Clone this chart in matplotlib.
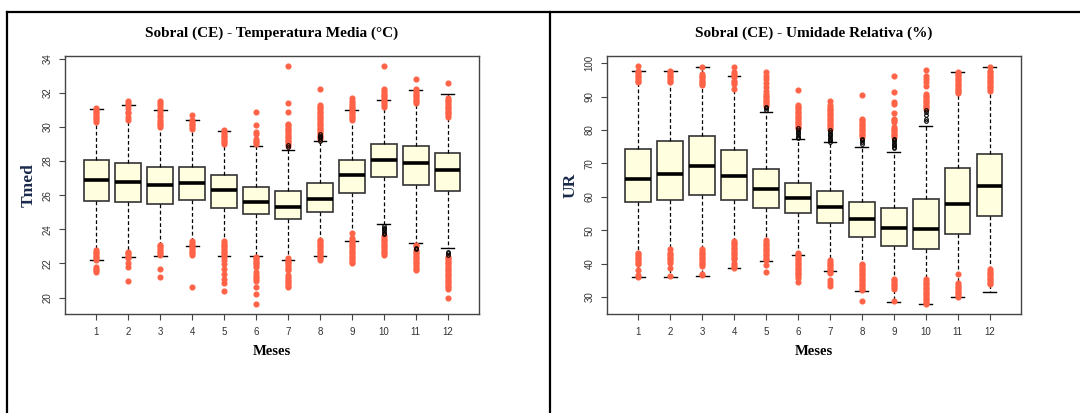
import numpy as np
import matplotlib
matplotlib.use("Agg")
import matplotlib.pyplot as plt
from matplotlib.lines import Line2D

# meses (x axis)
months = [1, 2, 3, 4, 5, 6, 7, 8, 9, 10, 11, 12]

# temperatura media - box stats
tmed_whislo = [22.22, 22.38, 22.46, 23.00, 22.46, 22.46, 22.22, 22.46, 23.30, 24.29, 23.22, 22.91]
tmed_q1 = [25.69, 25.60, 25.46, 25.75, 25.28, 24.91, 24.60, 24.99, 26.12, 27.08, 26.61, 26.22]
tmed_med = [26.92, 26.79, 26.61, 26.69, 26.30, 25.60, 25.30, 25.77, 27.18, 28.07, 27.90, 27.47]
tmed_q3 = [28.07, 27.90, 27.68, 27.68, 27.18, 26.47, 26.26, 26.69, 28.07, 28.99, 28.89, 28.48]
tmed_whishi = [31.08, 31.31, 31.00, 30.39, 29.79, 28.91, 28.68, 29.16, 31.00, 31.60, 32.19, 31.91]

# outliers (red) per month
tmed_out = [
	[31.1, 31.0, 30.9, 30.8, 30.7, 30.6, 30.5, 30.4, 30.3, 22.8, 22.7, 22.6, 22.5, 22.4, 22.3, 22.2, 21.8, 21.7, 21.6, 21.5],
	[31.5, 31.4, 31.3, 31.1, 30.9, 30.8, 30.6, 30.4, 22.7, 22.6, 22.5, 22.4, 22.3, 22.0, 21.8, 21.0],
	[31.5, 31.4, 31.3, 31.1, 31.0, 30.9, 30.7, 30.6, 30.4, 30.3, 30.2, 30.1, 30.0, 23.1, 23.0, 22.9, 22.8, 22.7, 22.6, 22.5, 21.7, 21.2],
	[30.7, 30.4, 30.3, 30.2, 30.1, 30.0, 29.9, 23.3, 23.2, 23.1, 23.0, 22.9, 22.8, 22.7, 22.6, 22.5, 20.6],
	[29.8, 29.7, 29.6, 29.5, 29.4, 29.3, 29.2, 29.1, 29.0, 23.3, 23.2, 23.1, 23.0, 22.9, 22.8, 22.7, 22.6, 22.5, 22.4,
	 22.2, 21.95, 21.7, 21.4, 21.1, 20.85, 20.4],
	[30.9, 30.1, 29.7, 29.6, 29.3, 29.2, 29.1, 29.0, 22.4, 22.3, 22.2, 22.1, 22.0, 21.9, 21.8, 21.5, 21.3, 21.2, 21.1,
	 21.0, 20.6, 20.2, 19.6],
	[33.6, 31.4, 30.9, 30.2, 30.1, 30.0, 29.9, 29.8, 29.7, 29.6, 29.5, 29.4, 29.3, 29.2, 29.1, 29.0, 28.9, 22.3, 22.2,
	 22.1, 22.0, 21.9, 21.8, 21.7, 21.6, 21.3, 21.2, 21.1, 21.0, 20.9, 20.8, 20.7, 20.6],
	[32.2, 31.3, 31.2, 31.1, 31.0, 30.9, 30.8, 30.7, 30.6, 30.5, 30.4, 30.3, 30.2, 30.1, 30.0, 29.9, 29.8, 29.7, 29.6,
	 29.5, 29.4, 29.3, 23.4, 23.3, 23.2, 23.1, 23.0, 22.9, 22.8, 22.7, 22.6, 22.5, 22.4, 22.3, 22.2],
	[31.7, 31.5, 31.4, 31.3, 31.2, 31.1, 31.0, 30.9, 30.8, 30.7, 30.6, 30.5, 30.4, 23.8, 23.5, 23.4, 23.3, 23.2, 23.1,
	 23.0, 22.9, 22.8, 22.7, 22.6, 22.5, 22.4, 22.3, 22.2, 22.1, 22.0],
	[33.6, 32.2, 32.1, 32.0, 31.9, 31.8, 31.7, 31.6, 31.5, 31.4, 31.3, 31.2, 23.6, 23.5, 23.4, 23.3, 23.2, 23.1, 23.0,
	 22.9, 22.8, 22.7, 22.6, 22.5],
	[32.8, 32.2, 32.1, 32.0, 31.9, 31.8, 31.7, 31.6, 31.5, 31.4, 23.1, 23.0, 22.8, 22.7, 22.6, 22.5, 22.4, 22.3, 22.2,
	 22.1, 22.0, 21.9, 21.8, 21.7, 21.6],
	[32.6, 31.7, 31.6, 31.5, 31.4, 31.3, 31.2, 31.1, 31.0, 30.9, 30.8, 30.7, 30.6, 22.4, 22.3, 22.2, 22.1, 22.0, 21.9,
	 21.8, 21.7, 21.6, 21.5, 21.4, 21.3, 21.2, 21.1, 21.0, 20.9, 20.8, 20.7, 20.6, 20.5, 20.0],
]
# small black circles near the whisker ends
tmed_dark = [[], [], [], [], [], [], [28.85, 28.95], [29.6, 29.5, 29.4, 29.3, 29.2], [],
	[24.2, 24.1, 24.0, 23.9, 23.8, 23.7], [22.9, 22.85], [22.7, 22.6, 22.5]]

# umidade relativa - box stats
ur_whislo = [36.0, 36.1, 36.2, 38.8, 40.9, 42.7, 37.7, 31.9, 28.6, 27.8, 30.0, 31.4]
ur_q1 = [58.6, 59.2, 60.7, 59.2, 56.8, 55.3, 52.2, 47.9, 45.2, 44.4, 48.8, 54.2]
ur_med = [65.2, 66.8, 69.1, 66.2, 62.4, 59.7, 56.9, 53.3, 50.6, 50.4, 57.8, 63.2]
ur_q3 = [74.4, 76.6, 78.2, 74.1, 68.3, 64.1, 61.9, 58.6, 56.8, 59.3, 68.7, 72.8]
ur_whishi = [97.7, 97.7, 98.9, 96.2, 85.3, 77.3, 76.4, 74.9, 73.3, 81.3, 97.4, 98.9]

ur_out = [
	[99.3, 97.8, 97.3, 96.8, 96.3, 95.8, 95.3, 94.8, 94.5, 43.3, 42.8, 42.3, 41.8, 41.3, 40.8, 40.3, 39.8, 38.1, 36.5, 36.1],
	[97.8, 97.3, 96.8, 96.3, 95.8, 95.3, 94.8, 94.3, 44.4, 43.3, 42.8, 42.3, 41.8, 41.3, 40.8, 40.3, 38.6, 36.3],
	[98.9, 96.8, 96.3, 95.8, 95.3, 94.8, 94.3, 93.8, 93.4, 44.3, 43.8, 43.3, 42.8, 42.3, 41.8, 41.3, 40.8, 40.3, 39.8,
	 39.4, 36.9, 36.5],
	[98.9, 97.3, 96.8, 96.3, 95.8, 94.8, 94.3, 93.8, 92.3, 46.8, 46.3, 45.8, 45.3, 44.8, 44.3, 43.8, 43.3, 42.8, 42.3,
	 41.8, 41.3, 40.3, 39.6, 39.1, 38.7],
	[97.3, 96.3, 95.3, 94.1, 92.8, 91.8, 90.8, 90.3, 89.8, 89.3, 88.8, 88.3, 87.8, 87.3, 47.0, 46.5, 46.0, 45.5, 45.0,
	 44.5, 44.0, 43.5, 43.0, 42.5, 42.0, 41.5, 41.1, 39.6, 37.4],
	[92.0, 87.5, 87.0, 86.5, 86.0, 85.5, 85.0, 84.5, 84.0, 83.5, 83.0, 82.5, 82.0, 81.5, 81.0, 80.5, 43.3, 42.8, 42.3,
	 41.8, 41.3, 40.8, 40.3, 39.8, 39.3, 38.8, 38.3, 37.8, 37.3, 36.8, 36.3, 35.8, 34.4],
	[88.6, 87.4, 86.9, 86.4, 85.9, 85.4, 84.9, 84.4, 83.9, 83.4, 82.9, 82.4, 81.9, 81.4, 80.9, 80.4, 41.0, 40.5, 40.0,
	 39.5, 39.0, 38.5, 38.0, 37.5, 37.1, 35.1, 34.1, 33.3],
	[90.5, 83.4, 82.9, 82.4, 81.9, 81.4, 80.9, 80.4, 79.9, 79.4, 78.9, 78.4, 77.9, 40.0, 39.5, 39.0, 38.5, 38.0, 37.5,
	 37.0, 36.5, 36.0, 35.5, 35.0, 34.5, 34.0, 33.5, 33.0, 32.5, 32.1, 28.9],
	[96.1, 91.3, 88.3, 87.8, 85.1, 83.4, 82.9, 82.4, 80.9, 80.4, 79.9, 79.4, 78.9, 78.4, 77.9, 35.5, 35.0, 34.5, 34.0,
	 33.5, 33.0, 32.5, 28.7],
	[98.1, 96.3, 95.3, 94.3, 93.3, 90.8, 90.3, 89.8, 89.3, 88.8, 88.3, 87.8, 87.3, 86.8, 86.3, 35.3, 34.8, 34.3, 33.8,
	 33.3, 32.8, 32.3, 31.8, 31.3, 30.8, 30.3, 29.8, 29.3, 28.8, 28.3, 27.8],
	[97.4, 96.9, 96.4, 95.9, 95.4, 94.9, 94.4, 93.9, 93.4, 92.9, 92.4, 91.9, 91.4, 91.0, 36.9, 34.1, 33.6, 33.1, 32.6,
	 32.1, 31.6, 31.1, 30.6, 30.1],
	[99.0, 97.8, 97.3, 96.8, 96.3, 95.8, 95.3, 94.8, 94.3, 93.8, 93.3, 92.8, 92.3, 91.8, 38.3, 37.8, 37.3, 36.8, 36.3,
	 35.8, 35.3, 34.8, 34.3, 33.8],
]
ur_dark = [[], [], [], [], [86.9, 86.5, 86.1], [80.5, 80.0, 79.5, 79.0, 78.5, 78.0, 77.6],
	[79.9, 79.4, 78.9, 78.4, 77.9, 77.4, 76.9, 76.5], [77.4, 76.9, 76.4, 75.9],
	[77.4, 76.9, 76.4, 75.9, 75.4, 74.9, 74.5], [85.9, 85.4, 84.4, 83.4, 82.6], [], []]

SERIF = ["Liberation Serif", "DejaVu Serif"]
SANS = ["Liberation Sans", "DejaVu Sans"]


def box_panel(ax, whislo, q1, med, q3, whishi, out, dark, ylim, yticks, ylabel, title):
	#build the stats list that bxp wants
	stats = []
	for i in range(len(months)):
		stats.append({
			"whislo": whislo[i], "q1": q1[i], "med": med[i], "q3": q3[i],
			"whishi": whishi[i], "fliers": out[i],
		})

	ax.bxp(
		stats, positions=months, widths=0.8, capwidths=0.4, patch_artist=True,
		boxprops=dict(facecolor="#FFFFE0", edgecolor="#333333", linewidth=1.2),
		whiskerprops=dict(color="black", linewidth=0.9, linestyle=(0, (3, 2))),
		capprops=dict(color="black", linewidth=1.0),
		medianprops=dict(color="black", linewidth=2.6, solid_capstyle="butt"),
		flierprops=dict(marker="o", markerfacecolor="#FF6347", markeredgecolor="#FF6347",
			markersize=3.4, linestyle="none"),
	)
	#the black little circles near some whiskers
	for m, vals in zip(months, dark):
		if vals:
			ax.plot(np.full(len(vals), m), vals, "o", mfc="none", mec="black", ms=2.6, mew=0.8, zorder=4)

	ax.set_xlim(0.02, 12.98)
	ax.set_ylim(*ylim)
	ax.set_xticks(months)
	ax.set_xticklabels([str(m) for m in months], family=SANS, fontsize=7, color="#333333")
	ax.set_yticks(yticks)
	ax.set_yticklabels([str(t) for t in yticks], family=SANS, fontsize=7, color="#333333",
		rotation=90, va="center")
	ax.tick_params(length=4, width=0.8, color="#444444", pad=5)
	for sp in ax.spines.values():
		sp.set_color("#444444")
		sp.set_linewidth(1.0)

	ax.set_title(title, family=SERIF, fontweight="bold", fontsize=11, pad=14)
	ax.set_xlabel("Meses", family=SERIF, fontweight="bold", fontsize=10.5, labelpad=6)
	ax.set_ylabel(ylabel, family=SERIF, fontweight="bold", fontsize=12.5, color="#1B2A4A", labelpad=4)


def main() -> int:
	fig = plt.figure(figsize=(10.8, 4.13), dpi=100)
	ax1 = fig.add_axes([0.0602, 0.2397, 0.3833, 0.6247])
	ax2 = fig.add_axes([0.5620, 0.2397, 0.3833, 0.6247])

	box_panel(ax1, tmed_whislo, tmed_q1, tmed_med, tmed_q3, tmed_whishi, tmed_out, tmed_dark,
		(19.04, 34.16), [20, 22, 24, 26, 28, 30, 32, 34], "Tmed",
		"Sobral (CE) - Temperatura Media (°C)")
	box_panel(ax2, ur_whislo, ur_q1, ur_med, ur_q3, ur_whishi, ur_out, ur_dark,
		(24.94, 102.16), [30, 40, 50, 60, 70, 80, 90, 100], "UR",
		"Sobral (CE) - Umidade Relativa (%)")

	#table-like frame around the two panels
	top = 1 - 12 / 413
	fig.add_artist(Line2D([7 / 1080, 1], [top, top], color="black", lw=1.6, transform=fig.transFigure))
	fig.add_artist(Line2D([7 / 1080, 7 / 1080], [0, top], color="black", lw=1.6, transform=fig.transFigure))
	fig.add_artist(Line2D([550 / 1080, 550 / 1080], [0, top], color="black", lw=1.6, transform=fig.transFigure))

	fig.savefig("out.png", dpi=100)
	return 0


if __name__ == "__main__":
	raise SystemExit(main())
